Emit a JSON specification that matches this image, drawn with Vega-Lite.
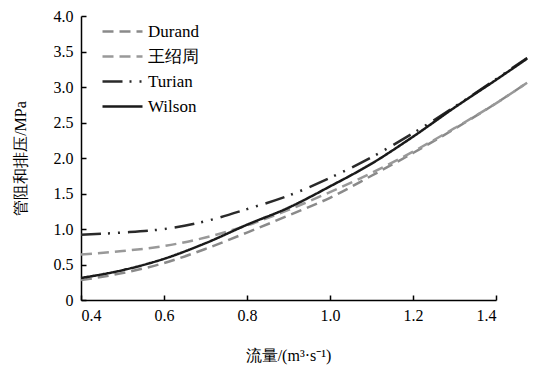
{
  "$schema": "https://vega.github.io/schema/vega-lite/v6.json",
  "width": 415,
  "height": 284,
  "autosize": {"type": "none"},
  "padding": {"left": 81, "top": 16, "right": 38, "bottom": 67},
  "background": "white",
  "config": {
    "view": {"stroke": null},
    "font": "Liberation Serif",
    "axis": {"grid": false, "domainColor": "#000", "tickColor": "#000", "labelColor": "#000", "titleColor": "#000", "domainWidth": 1.5, "tickWidth": 1.5, "labelFont": "Liberation Serif", "labelFontSize": 16, "titleFontSize": 16, "titleFontWeight": "normal", "titleFont": "Liberation Serif"}
  },
  "data": {"values": [
    {"s": "Durand", "x": 0.4, "y": 0.28}, {"s": "Durand", "x": 0.5, "y": 0.38}, {"s": "Durand", "x": 0.6, "y": 0.52}, {"s": "Durand", "x": 0.7, "y": 0.72}, {"s": "Durand", "x": 0.8, "y": 0.95}, {"s": "Durand", "x": 0.9, "y": 1.19}, {"s": "Durand", "x": 1.0, "y": 1.44}, {"s": "Durand", "x": 1.1, "y": 1.75}, {"s": "Durand", "x": 1.2, "y": 2.07}, {"s": "Durand", "x": 1.3, "y": 2.41}, {"s": "Durand", "x": 1.4, "y": 2.77}, {"s": "Durand", "x": 1.475, "y": 3.06},
    {"s": "王绍周", "x": 0.4, "y": 0.64}, {"s": "王绍周", "x": 0.5, "y": 0.69}, {"s": "王绍周", "x": 0.6, "y": 0.76}, {"s": "王绍周", "x": 0.7, "y": 0.88}, {"s": "王绍周", "x": 0.8, "y": 1.05}, {"s": "王绍周", "x": 0.9, "y": 1.27}, {"s": "王绍周", "x": 1.0, "y": 1.52}, {"s": "王绍周", "x": 1.1, "y": 1.79}, {"s": "王绍周", "x": 1.2, "y": 2.09}, {"s": "王绍周", "x": 1.3, "y": 2.42}, {"s": "王绍周", "x": 1.4, "y": 2.77}, {"s": "王绍周", "x": 1.475, "y": 3.06},
    {"s": "Turian", "x": 0.4, "y": 0.92}, {"s": "Turian", "x": 0.5, "y": 0.95}, {"s": "Turian", "x": 0.6, "y": 1.0}, {"s": "Turian", "x": 0.7, "y": 1.11}, {"s": "Turian", "x": 0.8, "y": 1.28}, {"s": "Turian", "x": 0.9, "y": 1.47}, {"s": "Turian", "x": 1.0, "y": 1.72}, {"s": "Turian", "x": 1.1, "y": 2.01}, {"s": "Turian", "x": 1.2, "y": 2.35}, {"s": "Turian", "x": 1.3, "y": 2.72}, {"s": "Turian", "x": 1.4, "y": 3.11}, {"s": "Turian", "x": 1.475, "y": 3.41},
    {"s": "Wilson", "x": 0.4, "y": 0.31}, {"s": "Wilson", "x": 0.5, "y": 0.42}, {"s": "Wilson", "x": 0.6, "y": 0.58}, {"s": "Wilson", "x": 0.7, "y": 0.8}, {"s": "Wilson", "x": 0.8, "y": 1.06}, {"s": "Wilson", "x": 0.9, "y": 1.3}, {"s": "Wilson", "x": 1.0, "y": 1.6}, {"s": "Wilson", "x": 1.1, "y": 1.92}, {"s": "Wilson", "x": 1.2, "y": 2.3}, {"s": "Wilson", "x": 1.3, "y": 2.71}, {"s": "Wilson", "x": 1.4, "y": 3.1}, {"s": "Wilson", "x": 1.475, "y": 3.4}
  ]},
  "mark": {"type": "line", "interpolate": "monotone", "strokeWidth": 2.5, "clip": false},
  "encoding": {
    "x": {"field": "x", "type": "quantitative", "scale": {"domain": [0.4, 1.4], "nice": false, "zero": false},
      "axis": {"values": [0.4, 0.6, 0.8, 1.0, 1.2, 1.4], "labelExpr": "format(datum.value, '.1f')", "tickSize": -5, "labelPadding": 12, "title": "流量/(m³·s⁻¹)", "titleX": 207, "titleY": 55, "titleBaseline": "middle", "titleAlign": "center"}},
    "y": {"field": "y", "type": "quantitative", "scale": {"domain": [0, 4], "nice": false},
      "axis": {"values": [0, 0.5, 1, 1.5, 2, 2.5, 3, 3.5, 4], "labelExpr": "datum.value == 0 ? '0' : format(datum.value, '.1f')", "tickSize": -5, "labelPadding": 13, "title": "管阻和排压/MPa", "titleX": -61, "titleY": 142, "titleAngle": -90, "titleBaseline": "middle", "titleAlign": "center"}},
    "color": {"field": "s", "type": "nominal", "sort": ["Durand", "王绍周", "Turian", "Wilson"],
      "scale": {"domain": ["Durand", "王绍周", "Turian", "Wilson"], "range": ["#8a8a8a", "#999999", "#2a2a2a", "#1a1a1a"]},
      "legend": {"title": null, "orient": "none", "legendX": 30, "legendY": 4, "symbolType": "M-2,0H2", "symbolSize": 400, "symbolStrokeWidth": 2.5, "labelFont": "Liberation Serif", "labelFontSize": 17, "labelColor": "#000", "rowPadding": 5, "labelOffset": 14, "padding": 0}},
    "strokeDash": {"field": "s", "type": "nominal", "sort": ["Durand", "王绍周", "Turian", "Wilson"],
      "scale": {"domain": ["Durand", "王绍周", "Turian", "Wilson"], "range": [[11, 6], [11, 6], [20, 7, 2, 8, 2, 8], [1, 0]]},
      "legend": null}
  }
}
